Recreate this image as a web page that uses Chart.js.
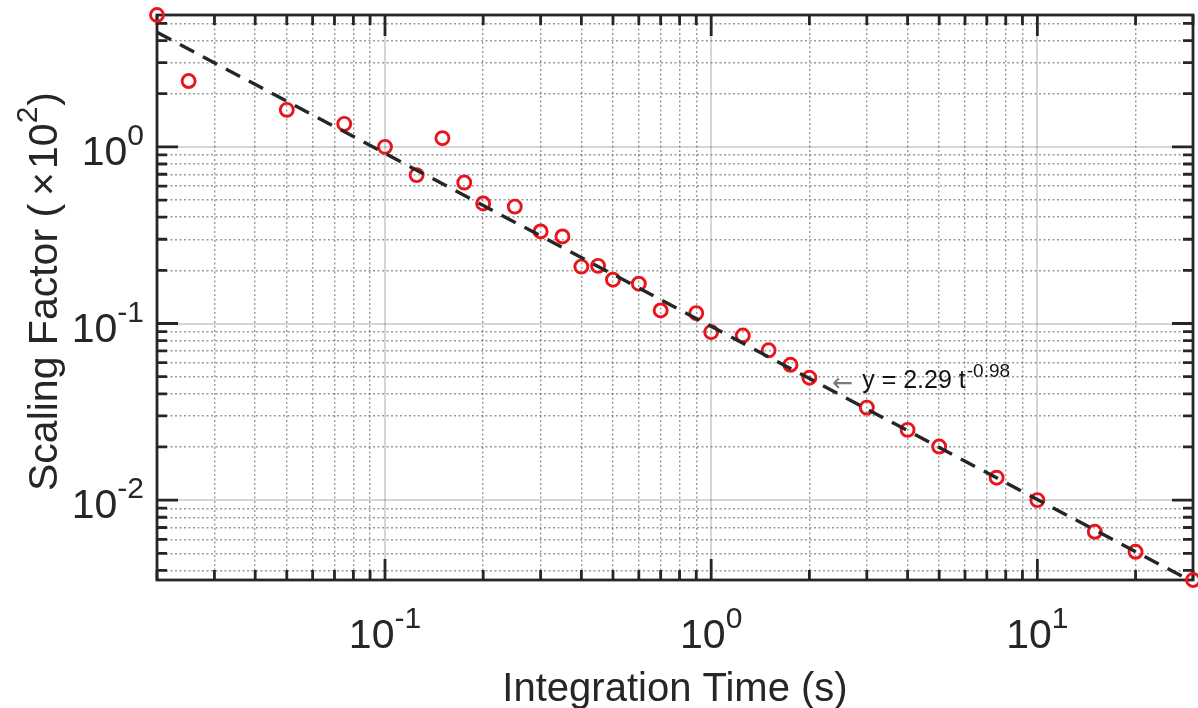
<!DOCTYPE html>
<html>
<head>
<meta charset="utf-8">
<title>Scaling Factor vs Integration Time</title>
<script src="https://cdn.jsdelivr.net/npm/chart.js@4.4.1/dist/chart.umd.min.js"></script>
<style>
  html, body { margin: 0; padding: 0; background: #ffffff; }
  canvas { display: block; }
</style>
</head>
<body>
<canvas id="chart" width="1198" height="708"></canvas>
<script>
// Integration time (s) of each measurement
const integrationTime = [0.02, 0.025, 0.05, 0.075, 0.1, 0.125, 0.15, 0.175, 0.2, 0.25,
  0.3, 0.35, 0.4, 0.45, 0.5, 0.6, 0.7, 0.9, 1.0, 1.25,
  1.5, 1.75, 2, 3, 4, 5, 7.5, 10, 15, 20, 30];

// Measured scaling factor (x10^2)
const scalingFactor = [5.58, 2.36, 1.62, 1.35, 1.0, 0.692, 1.12, 0.628, 0.478, 0.459,
  0.332, 0.311, 0.210, 0.212, 0.177, 0.168, 0.1185, 0.1145, 0.0894, 0.0855,
  0.0705, 0.0584, 0.0493, 0.0334, 0.0250, 0.0201, 0.0134, 0.0100, 0.00662, 0.00510, 0.00353];

// Power-law fit, end points of the dashed line
const fitTime = [0.02, 30];
const fitValue = [4.45, 0.003435];

// Fit annotation text and where its arrow points
const fitLabelBase = 'y = 2.29 t';
const fitLabelExp = '-0.98';
const fitLabelAt = [2.35, 0.0465];

// Decade tick labels (10^n)
const xDecades = [0.1, 1, 10];
const xDecadeExps = ['-1', '0', '1'];
const yDecades = [0.01, 0.1, 1];
const yDecadeExps = ['-2', '-1', '0'];

const xTitle = 'Integration Time (s)';
const yTitle = 'Scaling Factor (';

const INK = '#262626';
const FONT = '"Liberation Sans", Arial, Helvetica, sans-serif';
const TICK_SIZE = 41;
const EXP_SIZE = 30;

const xMin = Math.min(...integrationTime), xMax = Math.max(...integrationTime);
const yMin = Math.min(...scalingFactor), yMax = Math.max(...scalingFactor);

// 1..9 x 10^n positions inside [min, max]; decades are flagged as major
function logTicks(min, max) {
  const out = [];
  for (let n = Math.floor(Math.log10(min)); n <= Math.ceil(Math.log10(max)); n++) {
    for (let k = 1; k <= 9; k++) {
      const v = Number((k * Math.pow(10, n)).toPrecision(6));
      if (v >= min * 0.9999 && v <= max * 1.0001) out.push({ value: v, major: k === 1 });
    }
  }
  return out;
}

const isMajor = c => !!(c.tick && c.tick.major);

function logAxis(min, max) {
  return {
    type: 'logarithmic',
    min: min,
    max: max,
    afterBuildTicks: s => { s.ticks = logTicks(min, max); },
    ticks: { display: false },
    grid: {
      drawTicks: false,
      color: c => isMajor(c) ? 'rgba(0,0,0,0.16)' : 'rgba(70,70,70,0.55)',
      lineWidth: c => isMajor(c) ? 2 : 1.4
    },
    border: { display: false, dash: c => isMajor(c) ? [] : [2, 2.5] }
  };
}

// Box around the axes with inward tick marks on all four sides
const axesBox = {
  id: 'axesBox',
  beforeDatasetsDraw(chart) {
    const { ctx, chartArea: a, scales: { x, y } } = chart;
    ctx.save();
    ctx.strokeStyle = INK;
    ctx.lineWidth = 2.8;
    ctx.beginPath();
    x.ticks.forEach(t => {
      const px = x.getPixelForValue(t.value);
      const len = t.major ? 21 : 10;
      ctx.moveTo(px, a.bottom); ctx.lineTo(px, a.bottom - len);
      ctx.moveTo(px, a.top); ctx.lineTo(px, a.top + len);
    });
    y.ticks.forEach(t => {
      const py = y.getPixelForValue(t.value);
      const len = t.major ? 21 : 10;
      ctx.moveTo(a.left, py); ctx.lineTo(a.left + len, py);
      ctx.moveTo(a.right, py); ctx.lineTo(a.right - len, py);
    });
    ctx.stroke();
    ctx.strokeRect(a.left, a.top, a.right - a.left, a.bottom - a.top);
    ctx.restore();
  }
};

function font(size) { return size + 'px ' + FONT; }

// Tick labels as 10^n, axis titles and the fit annotation
const axisText = {
  id: 'axisText',
  afterDraw(chart) {
    const { ctx, chartArea: a, scales: { x, y } } = chart;
    ctx.save();
    ctx.fillStyle = INK;
    ctx.textBaseline = 'alphabetic';
    ctx.textAlign = 'left';

    // x decade labels, centred on their tick
    xDecades.forEach((v, i) => {
      const px = x.getPixelForValue(v);
      ctx.font = font(TICK_SIZE);
      const wb = ctx.measureText('10').width;
      ctx.font = font(EXP_SIZE);
      const we = ctx.measureText(xDecadeExps[i]).width;
      const x0 = px - (wb + we) / 2;
      const base = a.bottom + 68;
      ctx.font = font(TICK_SIZE);
      ctx.fillText('10', x0, base);
      ctx.font = font(EXP_SIZE);
      ctx.fillText(xDecadeExps[i], x0 + wb, base - 20);
    });

    // y decade labels, right-aligned next to the axis
    yDecades.forEach((v, i) => {
      const py = y.getPixelForValue(v);
      ctx.font = font(TICK_SIZE);
      const wb = ctx.measureText('10').width;
      ctx.font = font(EXP_SIZE);
      const we = ctx.measureText(yDecadeExps[i]).width;
      const x1 = a.left - 13;
      const base = py + 18;
      ctx.font = font(TICK_SIZE);
      ctx.fillText('10', x1 - we - wb, base);
      ctx.font = font(EXP_SIZE);
      ctx.fillText(yDecadeExps[i], x1 - we, base - 20);
    });

    // x title
    ctx.font = font(40);
    ctx.textAlign = 'center';
    ctx.fillText(xTitle, (a.left + a.right) / 2, 701);
    ctx.textAlign = 'left';

    // y title, rotated, with (x10^2)
    const parts = [
      { t: yTitle, s: 41, rise: 0, gapBefore: 0 },
      { t: '\u00D7', s: 41, rise: 0, gapBefore: 8 },
      { t: '10', s: 41, rise: 0, gapBefore: 3 },
      { t: '2', s: 30, rise: 20, gapBefore: 0 },
      { t: ')', s: 41, rise: 0, gapBefore: 1 }
    ];
    let total = 0;
    parts.forEach(p => { ctx.font = font(p.s); p.w = ctx.measureText(p.t).width; total += p.gapBefore + p.w; });
    ctx.translate(57, (a.top + a.bottom) / 2 - 6);
    ctx.rotate(-Math.PI / 2);
    let cx = -total / 2;
    parts.forEach(p => {
      cx += p.gapBefore;
      ctx.font = font(p.s);
      ctx.fillText(p.t, cx, -p.rise);
      cx += p.w;
    });
    ctx.setTransform(1, 0, 0, 1, 0, 0);

    // fit annotation: arrow pointing at the fitted line, then the equation
    const ax = x.getPixelForValue(fitLabelAt[0]);
    const ay = y.getPixelForValue(fitLabelAt[1]);
    ctx.font = '25px "DejaVu Sans", sans-serif';
    ctx.fillStyle = '#7a7a7a';
    ctx.fillText('\u2190', ax, ay + 9);
    ctx.fillStyle = '#141414';
    ctx.font = font(25);
    const tx = ax + 30;
    ctx.fillText(fitLabelBase, tx, ay + 6);
    const wt = ctx.measureText(fitLabelBase).width;
    ctx.font = font(19);
    ctx.fillText(fitLabelExp, tx + wt + 1, ay - 5);
    ctx.restore();
  }
};

new Chart(document.getElementById('chart'), {
  type: 'scatter',
  data: {
    datasets: [
      {
        label: 'Power-law fit',
        data: fitTime.map((t, i) => ({ x: t, y: fitValue[i] })),
        showLine: true,
        borderColor: INK,
        borderWidth: 3.4,
        borderDash: [16, 10],
        pointRadius: 0,
        fill: false,
        order: 0
      },
      {
        label: 'Scaling factor',
        data: integrationTime.map((t, i) => ({ x: t, y: scalingFactor[i] })),
        showLine: false,
        pointStyle: 'circle',
        pointRadius: 6.5,
        pointBorderWidth: 2.9,
        pointBorderColor: 'rgb(232,22,28)',
        pointBackgroundColor: 'rgba(0,0,0,0)',
        clip: false,
        order: 1
      }
    ]
  },
  options: {
    responsive: false,
    animation: false,
    devicePixelRatio: 1,
    layout: { autoPadding: false, padding: { left: 157, top: 15, right: 5, bottom: 128 } },
    plugins: { legend: { display: false }, tooltip: { enabled: false } },
    scales: {
      x: logAxis(xMin, xMax),
      y: logAxis(yMin, yMax)
    }
  },
  plugins: [axesBox, axisText]
});
</script>
</body>
</html>
